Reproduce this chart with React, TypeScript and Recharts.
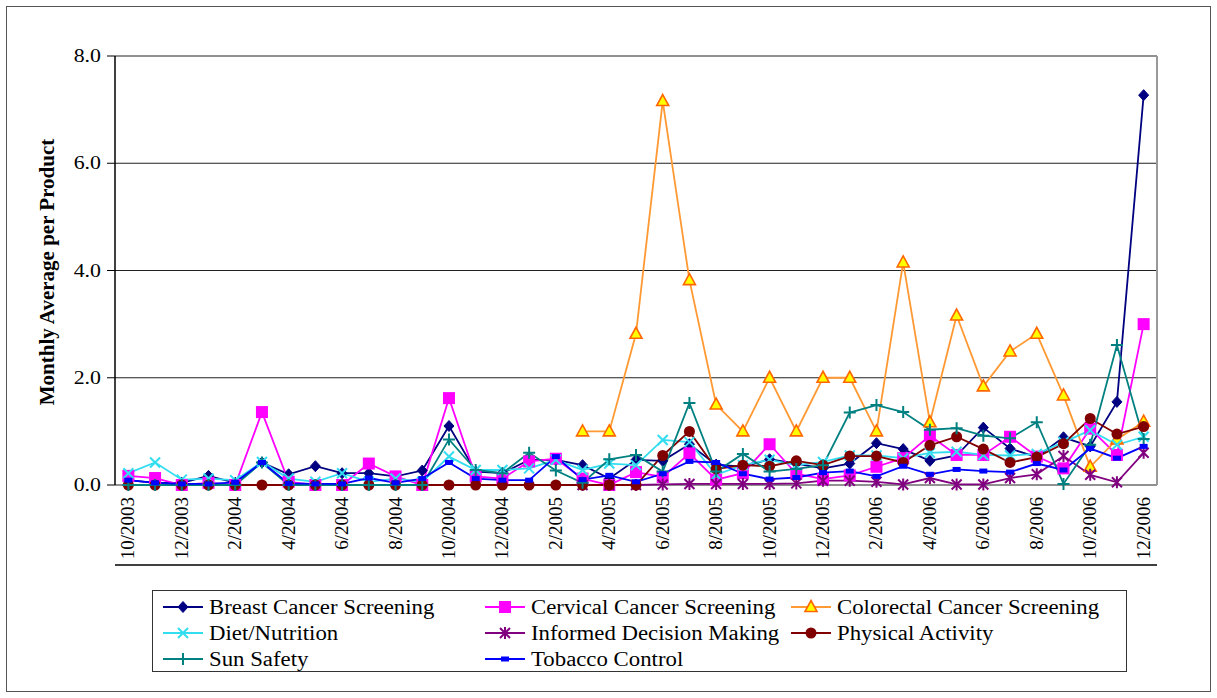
import { CartesianGrid, Line, LineChart, ReferenceLine, XAxis, YAxis } from 'recharts'

const months = [
  '10/2003', '11/2003', '12/2003', '1/2004', '2/2004', '3/2004', '4/2004', '5/2004', '6/2004', '7/2004',
  '8/2004', '9/2004', '10/2004', '11/2004', '12/2004', '1/2005', '2/2005', '3/2005', '4/2005', '5/2005',
  '6/2005', '7/2005', '8/2005', '9/2005', '10/2005', '11/2005', '12/2005', '1/2006', '2/2006', '3/2006',
  '4/2006', '5/2006', '6/2006', '7/2006', '8/2006', '9/2006', '10/2006', '11/2006', '12/2006',
]

const breast = [
  0.09, 0.04, 0.04, 0.17, 0.04, 0.42, 0.2, 0.35, 0.22, 0.22,
  0.16, 0.27, 1.1, 0.25, 0.22, 0.47, 0.47, 0.37, 0.12, 0.47,
  0.45, 0.76, 0.38, 0.34, 0.48, 0.4, 0.31, 0.4, 0.78, 0.67,
  0.45, 0.55, 1.07, 0.68, 0.52, 0.89, 0.72, 1.55, 7.27,
]
const cervical = [
  0.17, 0.13, 0, 0.04, 0, 1.36, 0.06, 0, 0, 0.4,
  0.16, 0, 1.62, 0.16, 0.12, 0.44, 0.49, 0.12, 0, 0.24,
  0.15, 0.59, 0.1, 0.22, 0.76, 0.21, 0.11, 0.18, 0.34, 0.5,
  0.92, 0.56, 0.56, 0.9, 0.53, 0.31, 1.05, 0.56, 3.0,
]
const colorectal = [
  null, null, null, null, null, null, null, null, null, null,
  null, null, null, null, null, null, null, 1.0, 1.0, 2.82,
  7.16, 3.82, 1.5, 1.0, 2.0, 1.0, 2.0, 2.0, 1.0, 4.15,
  1.17, 3.16, 1.84, 2.49, 2.82, 1.67, 0.34, 0.85, 1.18,
]
const diet = [
  0.22, 0.42, 0.1, 0.12, 0.09, 0.43, 0.12, 0.06, 0.22, 0.06,
  0.12, 0.06, 0.53, 0.28, 0.28, 0.31, 0.47, 0.28, 0.4, 0.37,
  0.84, 0.8, 0.19, 0.37, 0.47, 0.37, 0.43, 0.55, 0.55, 0.5,
  0.6, 0.62, 0.56, 0.55, 0.58, 0.8, 1.02, 0.75, 0.9,
]
const informed = [
  null, null, null, null, null, null, null, null, null, null,
  null, null, null, null, null, null, null, 0, 0, 0,
  0.01, 0.02, 0.02, 0.02, 0.02, 0.03, 0.08, 0.08, 0.06, 0.01,
  0.13, 0.01, 0.01, 0.13, 0.2, 0.54, 0.19, 0.05, 0.6,
]
const physical = [
  0, 0, 0, 0, 0, 0, 0, 0, 0, 0,
  0, 0, 0, 0, 0, 0, 0, 0, 0, 0,
  0.55, 1.0, 0.3, 0.37, 0.35, 0.45, 0.37, 0.54, 0.54, 0.42,
  0.74, 0.9, 0.67, 0.42, 0.52, 0.77, 1.24, 0.95, 1.09,
]
const sun = [
  0, 0, 0, 0, 0, 0.42, 0, 0, 0, 0,
  0, 0, 0.85, 0.28, 0.22, 0.6, 0.27, 0.04, 0.48, 0.56,
  0.25, 1.53, 0.25, 0.58, 0.25, 0.3, 0.37, 1.35, 1.49, 1.36,
  1.03, 1.06, 0.92, 0.87, 1.17, 0.02, 0.75, 2.61, 0.86,
]
const tobacco = [
  0.09, 0.04, 0.02, 0.02, 0.05, 0.42, 0.03, 0.02, 0.02, 0.13,
  0.04, 0.12, 0.42, 0.12, 0.09, 0.09, 0.53, 0.1, 0.18, 0.06,
  0.21, 0.44, 0.42, 0.21, 0.11, 0.14, 0.23, 0.26, 0.16, 0.35,
  0.2, 0.29, 0.26, 0.24, 0.4, 0.28, 0.68, 0.5, 0.72,
]

const yTicks = [0, 2, 4, 6, 8]

const data = months.map((m, i) => ({
  idx: i,
  month: m,
  breast: breast[i],
  cervical: cervical[i],
  colorectal: colorectal[i],
  diet: diet[i],
  informed: informed[i],
  physical: physical[i],
  sun: sun[i],
  tobacco: tobacco[i],
}))

const labelTicks = months.map((_, i) => i).filter((i) => i % 2 === 0)
const minorTicks = [...months.map((_, i) => i - 0.5), months.length - 0.5]

const FONT = '"Liberation Serif", "Times New Roman", serif'

type Shape = 'diamond' | 'square' | 'triangle' | 'x' | 'star' | 'circle' | 'plus' | 'dash'

function marker(shape: Shape, cx: number, cy: number, color: string, fill: string) {
  switch (shape) {
    case 'diamond':
      return <path d={`M${cx},${cy - 5.5}L${cx + 5},${cy}L${cx},${cy + 5.5}L${cx - 5},${cy}Z`} fill={color} stroke={color} />
    case 'square':
      return <rect x={cx - 6} y={cy - 6} width={12} height={12} fill={color} />
    case 'triangle':
      return <path d={`M${cx},${cy - 6.5}L${cx + 6},${cy + 4.5}L${cx - 6},${cy + 4.5}Z`} fill={fill} stroke="#ff6600" strokeWidth={1.6} />
    case 'x':
      return <path d={`M${cx - 5},${cy - 5}L${cx + 5},${cy + 5}M${cx - 5},${cy + 5}L${cx + 5},${cy - 5}`} stroke={color} strokeWidth={2} />
    case 'star':
      return (
        <path
          d={`M${cx - 5},${cy - 5}L${cx + 5},${cy + 5}M${cx - 5},${cy + 5}L${cx + 5},${cy - 5}M${cx},${cy - 6}L${cx},${cy + 6}`}
          stroke={color}
          strokeWidth={2}
        />
      )
    case 'circle':
      return <circle cx={cx} cy={cy} r={5.5} fill={color} />
    case 'plus':
      return <path d={`M${cx - 6},${cy}L${cx + 6},${cy}M${cx},${cy - 6}L${cx},${cy + 6}`} stroke={color} strokeWidth={2} />
    case 'dash':
      return <rect x={cx - 4} y={cy - 2.5} width={8} height={5} fill={color} />
  }
}

function makeDot(shape: Shape, color: string, fill: string) {
  return (props: any) => {
    const { cx, cy, index, value } = props
    if (cx == null || cy == null || value == null) return <g key={`${shape}-${index}`} />
    return <g key={`${shape}-${index}`}>{marker(shape, cx, cy, color, fill)}</g>
  }
}

const series = [
  { key: 'breast', name: 'Breast Cancer Screening', color: '#000080', shape: 'diamond' as Shape, fill: '#000080' },
  { key: 'cervical', name: 'Cervical Cancer Screening', color: '#ff00ff', shape: 'square' as Shape, fill: '#ff00ff' },
  { key: 'colorectal', name: 'Colorectal Cancer Screening', color: '#ff9933', shape: 'triangle' as Shape, fill: '#ffff00' },
  { key: 'diet', name: 'Diet/Nutrition', color: '#33ddf0', shape: 'x' as Shape, fill: '#33ddf0' },
  { key: 'informed', name: 'Informed Decision Making', color: '#800080', shape: 'star' as Shape, fill: '#800080' },
  { key: 'physical', name: 'Physical Activity', color: '#800000', shape: 'circle' as Shape, fill: '#800000' },
  { key: 'sun', name: 'Sun Safety', color: '#008080', shape: 'plus' as Shape, fill: '#008080' },
  { key: 'tobacco', name: 'Tobacco Control', color: '#0000ff', shape: 'dash' as Shape, fill: '#0000ff' },
]

function MonthTick(props: any) {
  const { x, y, payload } = props
  const tx = x + 6
  const ty = y + 4
  return (
    <text
      x={tx}
      y={ty}
      transform={`rotate(-90, ${tx}, ${ty})`}
      textAnchor="end"
      fontFamily={FONT}
      fontSize={19}
      fill="#000"
    >
      {months[payload.value]}
    </text>
  )
}

function ValueTick(props: any) {
  const { x, y, payload } = props
  return (
    <text
      x={0}
      y={0}
      transform={`translate(${x - 1}, ${y + 6}) scale(1.15, 1)`}
      textAnchor="end"
      fontFamily={FONT}
      fontSize={19}
      fill="#000"
    >
      {Number(payload.value).toFixed(1)}
    </text>
  )
}

function LegendBox() {
  const cols = [10, 332, 638]
  const rows = [16, 42, 68]
  return (
    <div
      style={{
        position: 'absolute',
        left: 152,
        top: 590,
        width: 975,
        height: 82,
        border: '1.5px solid #333',
        boxSizing: 'border-box',
        background: '#fff',
      }}
    >
      {series.map((s, i) => (
        <div
          key={s.key}
          style={{
            position: 'absolute',
            left: cols[i % 3],
            top: rows[Math.floor(i / 3)] - 12,
            height: 24,
            display: 'flex',
            alignItems: 'center',
            fontFamily: FONT,
            fontSize: 20,
            whiteSpace: 'nowrap',
          }}
        >
          <svg width={40} height={16} style={{ marginRight: 6 }}>
            <line x1={0} y1={8} x2={40} y2={8} stroke={s.color} strokeWidth={2} />
            {marker(s.shape, 20, 8, s.color, s.fill)}
          </svg>
          <span style={{ display: 'inline-block', transform: 'scaleX(1.14)', transformOrigin: 'left center' }}>
            {s.name}
          </span>
        </div>
      ))}
    </div>
  )
}

export default function App() {
  return (
    <div style={{ position: 'absolute', left: 0, top: 0, width: 1217, height: 698, background: '#fff' }}>
      <div
        style={{
          position: 'absolute',
          left: 6,
          top: 6,
          width: 1205,
          height: 686,
          border: '1.5px solid #555',
          boxSizing: 'border-box',
        }}
      />
      <div style={{ position: 'absolute', left: 0, top: 0 }}>
        <LineChart width={1217} height={698} data={data} margin={{ top: 56, right: 60, bottom: 132, left: 55 }}>
          <CartesianGrid horizontal vertical={false} stroke="#222" strokeWidth={1} yAxisId="y" xAxisId="main" />
          <XAxis
            xAxisId="minor"
            dataKey="idx"
            type="number"
            domain={[-0.5, 38.5]}
            ticks={minorTicks}
            tick={false}
            tickSize={6}
            tickLine={{ stroke: '#000' }}
            axisLine={{ stroke: '#000', strokeWidth: 1.5 }}
            height={1}
            allowDataOverflow
          />
          <XAxis
            xAxisId="main"
            dataKey="idx"
            type="number"
            domain={[-0.5, 38.5]}
            ticks={labelTicks}
            interval={0}
            tick={<MonthTick />}
            tickLine={false}
            axisLine={false}
            height={80}
            allowDataOverflow
          />
          <YAxis
            yAxisId="y"
            domain={[0, 8]}
            ticks={yTicks}
            width={60}
            tickSize={8}
            tickMargin={5}
            tick={<ValueTick />}
            tickLine={{ stroke: '#000' }}
            axisLine={{ stroke: '#000', strokeWidth: 1.5 }}
            label={{
              content: () => (
                <text
                  x={54}
                  y={272}
                  transform="rotate(-90, 54, 272)"
                  textAnchor="middle"
                  fontFamily={FONT}
                  fontWeight="bold"
                  fontSize={21}
                  fill="#000"
                >
                  Monthly Average per Product
                </text>
              ),
            }}
          />
          <ReferenceLine xAxisId="main" yAxisId="y" x={38.5} stroke="#999" strokeWidth={2} />
          {series.map((s) => (
            <Line
              key={s.key}
              xAxisId="main"
              yAxisId="y"
              type="linear"
              dataKey={s.key}
              name={s.name}
              stroke={s.color}
              strokeWidth={1.8}
              dot={makeDot(s.shape, s.color, s.fill)}
              activeDot={false}
              isAnimationActive={false}
            />
          ))}
        </LineChart>
      </div>
      <LegendBox />
    </div>
  )
}
